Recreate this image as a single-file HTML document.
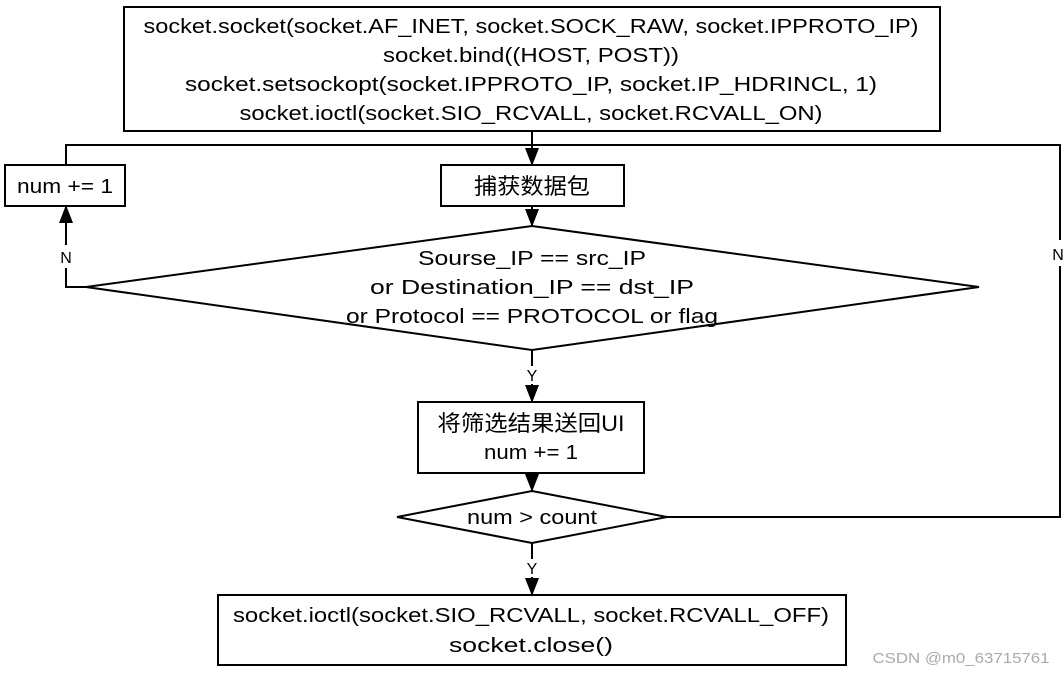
<!DOCTYPE html>
<html><head><meta charset="utf-8"><style>
html,body{margin:0;padding:0;background:#fff;width:1064px;height:674px;overflow:hidden}
svg text{font-family:"Liberation Sans","Noto Sans CJK SC",sans-serif;font-size:20px;fill:#000}
</style></head><body>
<svg width="1064" height="674" viewBox="0 0 1064 674" xmlns="http://www.w3.org/2000/svg">
<defs><marker id="a" markerWidth="18" markerHeight="14" refX="17" refY="7" orient="auto" markerUnits="userSpaceOnUse"><path d="M0,0 L18,7 L0,14 z" fill="#000"/></marker></defs>
<g fill="none" stroke="#000" stroke-width="2">
<rect x="124" y="7" width="816" height="124"/>
<rect x="441" y="165" width="183" height="41"/>
<rect x="5" y="165" width="120" height="41"/>
<polygon points="532,226 979,287 532,350 86,287"/>
<rect x="418" y="402" width="226" height="71"/>
<polygon points="532,491 667,517 532,543 397,517"/>
<rect x="218" y="595" width="628" height="70"/>
<polyline points="66,165 66,145 1060,145 1060,240"/>
<polyline points="1060,266 1060,517 667,517"/>
<line x1="532" y1="131" x2="532" y2="165" marker-end="url(#a)"/>
<line x1="532" y1="206" x2="532" y2="226" marker-end="url(#a)"/>
<polyline points="86,287 66,287 66,268"/>
<line x1="66" y1="245" x2="66" y2="206" marker-end="url(#a)"/>
<line x1="532" y1="350" x2="532" y2="366"/>
<line x1="532" y1="384" x2="532" y2="402" marker-end="url(#a)"/>
<line x1="532" y1="473" x2="532" y2="491" marker-end="url(#a)"/>
<line x1="532" y1="543" x2="532" y2="559"/>
<line x1="532" y1="577" x2="532" y2="595" marker-end="url(#a)"/>
</g>
<g text-anchor="middle">
<text x="531" y="33" textLength="775" lengthAdjust="spacingAndGlyphs">socket.socket(socket.AF_INET, socket.SOCK_RAW, socket.IPPROTO_IP)</text>
<text x="531" y="62" textLength="296" lengthAdjust="spacingAndGlyphs">socket.bind((HOST, POST))</text>
<text x="531" y="91" textLength="692" lengthAdjust="spacingAndGlyphs">socket.setsockopt(socket.IPPROTO_IP, socket.IP_HDRINCL, 1)</text>
<text x="531" y="120" textLength="583" lengthAdjust="spacingAndGlyphs">socket.ioctl(socket.SIO_RCVALL, socket.RCVALL_ON)</text>
<text x="532" y="194" style="font-size:22px" textLength="116" lengthAdjust="spacingAndGlyphs">捕获数据包</text>
<text x="65" y="193" textLength="96" lengthAdjust="spacingAndGlyphs">num += 1</text>
<text x="532" y="265" textLength="228" lengthAdjust="spacingAndGlyphs">Sourse_IP == src_IP</text>
<text x="532" y="294" textLength="324" lengthAdjust="spacingAndGlyphs">or Destination_IP == dst_IP</text>
<text x="532" y="323" textLength="372" lengthAdjust="spacingAndGlyphs">or Protocol == PROTOCOL or flag</text>
<text x="531" y="431" style="font-size:22px" textLength="187" lengthAdjust="spacingAndGlyphs">将筛选结果送回UI</text>
<text x="531" y="459" textLength="94" lengthAdjust="spacingAndGlyphs">num += 1</text>
<text x="532" y="524" textLength="130" lengthAdjust="spacingAndGlyphs">num &gt; count</text>
<text x="531" y="622" textLength="596" lengthAdjust="spacingAndGlyphs">socket.ioctl(socket.SIO_RCVALL, socket.RCVALL_OFF)</text>
<text x="531" y="652" textLength="164" lengthAdjust="spacingAndGlyphs">socket.close()</text>
<text x="66" y="263" style="font-size:16px">N</text>
<text x="1058" y="260" style="font-size:16px">N</text>
<text x="532" y="381" style="font-size:16px">Y</text>
<text x="532" y="574" style="font-size:16px">Y</text>
<text x="961" y="663" style="font-size:15px;fill:#aaa" textLength="177" lengthAdjust="spacingAndGlyphs">CSDN @m0_63715761</text>
</g>
</svg>
</body></html>
